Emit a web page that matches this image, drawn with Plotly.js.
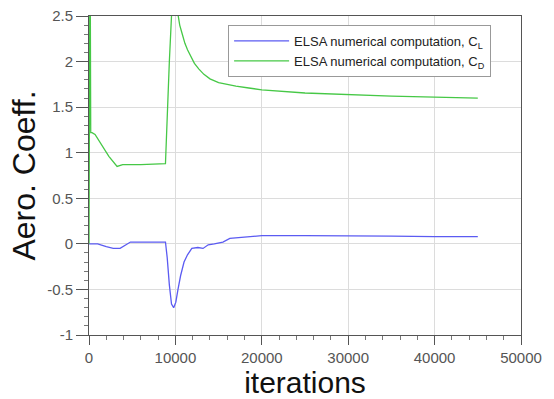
<!DOCTYPE html>
<html><head><meta charset="utf-8">
<script src="https://cdn.plot.ly/plotly-3.0.1.min.js"></script>
<style>html,body{margin:0;padding:0;background:#fff;}#chart{width:554px;height:399px;}</style>
</head><body><div id="chart"></div>
<script>
const cdIter = [0, 120, 200, 350, 700, 1500, 2300, 3250, 3900, 6000, 8850, 9300, 9600, 9900, 10200, 10500, 10800, 11100, 11400, 11800, 12200, 12700, 13300, 14000, 15000, 16000, 17000, 18500, 20000, 25000, 30000, 35000, 40000, 45000];
const cdVal  = [0, 3.5, 1.22, 1.22, 1.2, 1.08, 0.96, 0.85, 0.87, 0.87, 0.88, 2.0, 2.6, 2.75, 2.55, 2.4, 2.3, 2.2, 2.13, 2.05, 1.98, 1.92, 1.86, 1.81, 1.77, 1.75, 1.73, 1.71, 1.69, 1.655, 1.635, 1.62, 1.61, 1.6];
const clIter = [0, 1000, 2000, 2800, 3600, 4300, 4800, 8850, 9050, 9300, 9550, 9800, 10050, 10300, 10600, 11000, 11400, 11900, 12600, 13200, 13800, 14500, 15500, 16300, 18300, 20000, 25000, 30000, 35000, 40000, 45000];
const clVal  = [0, 0.0, -0.03, -0.05, -0.05, -0.01, 0.02, 0.02, -0.15, -0.45, -0.66, -0.70, -0.64, -0.5, -0.35, -0.2, -0.12, -0.05, -0.04, -0.05, -0.01, 0.0, 0.02, 0.06, 0.08, 0.09, 0.09, 0.09, 0.085, 0.08, 0.08];
const yTickVals = [-1, -0.5, 0, 0.5, 1, 1.5, 2, 2.5];
const yTickText = ['-1', '-0.5', '0', '0.5', '1', '1.5', '2', '2.5'];
const xTickVals = [0, 10000, 20000, 30000, 40000, 50000];
const xTickText = ['0', '10000', '20000', '30000', '40000', '50000'];
const nameCL = 'ELSA numerical computation, C<sub>L</sub>';
const nameCD = 'ELSA numerical computation, C<sub>D</sub>';

const traces = [
  {x: clIter, y: clVal, name: nameCL, mode: 'lines', line: {color: '#5b5bf2', width: 1.3}},
  {x: cdIter, y: cdVal, name: nameCD, mode: 'lines', line: {color: '#46c846', width: 1.3}}
];
const font = 'Liberation Sans, Arial, Helvetica, sans-serif';
const layout = {
  width: 554, height: 399,
  margin: {l: 89, r: 33, t: 16, b: 64},
  paper_bgcolor: '#fff', plot_bgcolor: '#fff',
  font: {family: font, color: '#444'},
  showlegend: true,
  legend: {x: 0.322, y: 0.972, xanchor: 'left', yanchor: 'top', bgcolor: '#fff',
           bordercolor: '#999', borderwidth: 1, font: {size: 13, color: '#222'},
           itemwidth: 55, tracegroupgap: 0},
  xaxis: {range: [0, 50000], tickmode: 'array', tickvals: xTickVals, ticktext: xTickText,
          ticks: 'outside', ticklen: 9, tickcolor: '#555', tickfont: {size: 15, color: '#555'},
          showline: true, linecolor: '#555', mirror: true, zeroline: false,
          showgrid: true, gridcolor: '#dcdcdc',
          minor: {dtick: 2000, ticks: 'outside', ticklen: 4, tickcolor: '#777', showgrid: false},
          title: {text: 'iterations', font: {size: 30, color: '#111'}, standoff: 3}},
  yaxis: {range: [-1, 2.5], tickmode: 'array', tickvals: yTickVals, ticktext: yTickText,
          ticks: 'outside', ticklen: 12, tickcolor: '#555', tickfont: {size: 15, color: '#555'},
          showline: true, linecolor: '#555', mirror: true, zeroline: false,
          showgrid: true, gridcolor: '#dcdcdc',
          minor: {dtick: 0.1, ticks: 'outside', ticklen: 4, tickcolor: '#777', showgrid: false},
          title: {text: 'Aero. Coeff.', font: {size: 32, color: '#111'}, standoff: 1}}
};
Plotly.newPlot('chart', traces, layout, {displayModeBar: false, staticPlot: true});
</script></body></html>
